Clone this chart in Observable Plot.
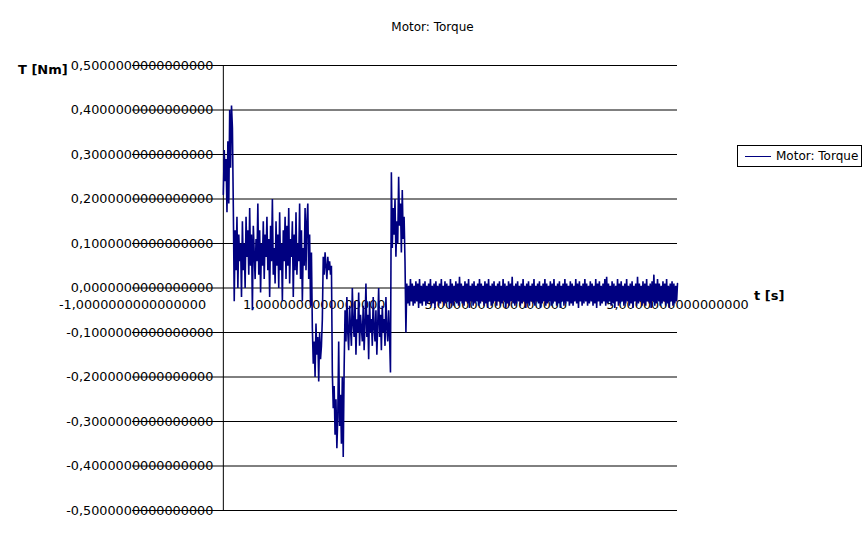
<!DOCTYPE html>
<html>
<head>
<meta charset="utf-8">
<script src="https://cdn.jsdelivr.net/npm/d3@7"></script>
<script src="https://cdn.jsdelivr.net/npm/@observablehq/plot@0.6"></script>
<style>
  html, body { margin: 0; padding: 0; background: #fff; }
  #root { position: relative; width: 867px; height: 548px; font-family: "DejaVu Sans", sans-serif; color: #000; }
  #root svg { position: absolute; left: 0; top: 0; }
  .lbl { position: absolute; white-space: nowrap; line-height: 16px; }
  #title { left: 0; width: 865px; text-align: center; top: 19px; font-size: 12px; }
  #ylab { left: 18px; top: 62px; font-size: 13px; font-weight: bold; }
  #xlab { left: 754px; top: 288px; font-size: 13px; font-weight: bold; }
  #legend { position: absolute; left: 737px; top: 145px; width: 125px; height: 22px; border: 1px solid #000; box-sizing: border-box; background: #fff; }
  #legend .sw { position: absolute; left: 7px; top: 10px; width: 26px; height: 1px; background: #000080; }
  #legend .tx { position: absolute; left: 38px; top: 3px; font-size: 12px; line-height: 14px; white-space: nowrap; }
</style>
</head>
<body>
<div id="root">
  <div class="lbl" id="title">Motor: Torque</div>
  <div class="lbl" id="ylab">T [Nm]</div>
  <div class="lbl" id="xlab">t [s]</div>
  <div id="legend"><div class="sw"></div><div class="tx">Motor: Torque</div></div>
</div>
<script>
// sampling interval of the torque series (s)
const dt = 0.01;
// Motor torque (Nm), sampled every dt from t = 0 s to t = 5 s
const torque = [
  .21,.31,.24,.29,.17,.33,.19,.40,.27,.41,
  .36,.18,-.03,.13,.04,.16,.00,.12,.06,.10,
  -.02,.15,.04,.10,.00,.16,.07,.13,.03,.18,
  .05,.12,-.05,.14,.08,.02,.11,.06,.19,.03,
  .13,-.01,.10,.05,.15,.02,.12,.07,.16,.04,
  .11,-.02,.14,.06,.20,.03,.09,.01,.15,.05,
  .12,.00,.17,.04,.10,-.03,.13,.06,.16,.02,
  .14,.05,.18,.01,.11,.07,.15,-.02,.12,.04,
  .17,.03,.10,.06,.19,.02,.13,-.03,.09,.05,
  .18,.04,.15,.19,.02,.12,-.04,.08,
  -.09,-.17,-.12,-.20,-.08,-.15,-.11,-.21,-.10,-.16,-.13,-.07,
  .07,.03,.08,.05,.02,.07,.04,.06,.03,.05,
  -.19,-.27,-.22,-.33,-.25,-.36,-.29,-.12,-.31,-.24,-.35,-.20,-.38,-.18,
  -.05,-.12,-.02,-.10,-.14,-.04,-.09,-.13,.00,-.08,
  -.11,-.03,-.15,-.07,-.10,-.01,-.13,-.06,-.09,-.12,
  -.04,-.14,-.08,.01,-.11,-.06,-.16,-.03,-.10,-.07,
  -.13,-.02,-.09,-.12,-.05,-.15,-.08,.00,-.11,-.06,
  -.14,-.04,-.10,-.07,-.13,-.02,-.09,-.12,-.05,-.11,
  -.19,
  .26,.09,.18,.12,.20,.07,.15,.10,.25,.14,.19,.08,.22,.11,.16,.06,
  -.10,
  .01,-.035,.005,-.04,.02,-.03,.01,-.04,.005,-.035,.015,-.03,.01,-.045,.02,-.035,.005,-.04,.01,-.03,
  .015,-.04,.005,-.035,.01,-.03,.02,-.04,.005,-.035,.01,-.045,.015,-.03,.005,-.04,.01,-.035,.02,-.03,
  .005,-.04,.015,-.035,.01,-.03,.005,-.045,.02,-.035,.01,-.04,.005,-.03,.015,-.035,.01,-.04,.025,-.03,
  .01,-.035,.005,-.04,.015,-.03,.01,-.035,.02,-.045,.005,-.03,.01,-.04,.015,-.035,.005,-.03,.01,-.04,
  .02,-.035,.01,-.03,.005,-.04,.015,-.035,.01,-.045,.02,-.03,.005,-.04,.01,-.035,.015,-.03,.005,-.04,
  .01,-.03,.015,-.04,.005,-.035,.02,-.03,.01,-.045,.005,-.035,.015,-.04,.01,-.03,.025,-.035,.005,-.04,
  .01,-.035,.015,-.03,.005,-.04,.01,-.035,.02,-.03,.005,-.045,.01,-.035,.015,-.04,.005,-.03,.01,-.035,
  .02,-.04,.005,-.03,.01,-.035,.015,-.045,.005,-.035,.01,-.03,.02,-.04,.01,-.035,.005,-.03,.015,-.04,
  .01,-.035,.02,-.03,.005,-.04,.01,-.035,.015,-.045,.005,-.03,.01,-.04,.02,-.035,.01,-.03,.005,-.04,
  .015,-.035,.01,-.04,.005,-.03,.02,-.035,.01,-.045,.015,-.03,.005,-.04,.01,-.035,.02,-.03,.01,-.04,
  .005,-.035,.015,-.03,.01,-.04,.005,-.035,.02,-.045,.01,-.03,.015,-.04,.005,-.035,.01,-.03,.02,-.04,
  .025,-.035,.01,-.03,.005,-.04,.015,-.035,.01,-.045,.005,-.03,.02,-.04,.01,-.035,.015,-.03,.005,-.04,
  .01,-.035,.02,-.03,.005,-.04,.01,-.035,.015,-.045,.005,-.03,.01,-.04,.025,-.035,.01,-.03,.005,-.04,
  .015,-.035,.01,-.04,.02,-.03,.005,-.035,.01,-.045,.015,-.03,.03,-.04,.01,-.035,.02,-.03,.01,-.04,
  .005,-.035,.015,-.03,.01,-.04,.02,-.035,.005,-.045,.01,-.03,.015,-.04,.01,-.035,.005,-.03,.01
];
// axis ticks
const yTicks = [-0.5, -0.4, -0.3, -0.2, -0.1, 0, 0.1, 0.2, 0.3, 0.4, 0.5];
const xTicks = [-1, 1, 3, 5];
const xDomain = [-1, 5];
const yDomain = [-0.5, 0.5];

const series = torque.map((v, i) => ({t: i * dt, v}));
const fmt = d => d.toFixed(16).replace(".", ",");

const chart = Plot.plot({
  width: 867,
  height: 548,
  marginLeft: 132,
  marginRight: 190,
  marginTop: 65,
  marginBottom: 38,
  x: {domain: xDomain, axis: null},
  y: {domain: yDomain, axis: null},
  style: {fontFamily: "DejaVu Sans", background: "transparent", color: "#000"},
  marks: [
    Plot.ruleY(yTicks, {stroke: "#000", strokeWidth: 1, strokeOpacity: 1}),
    Plot.ruleX([0], {stroke: "#000", strokeWidth: 1, strokeOpacity: 1}),
    Plot.text(yTicks, {x: 0, y: d => d, text: fmt, textAnchor: "end", dx: -10, fontSize: 12.8, fill: "#000"}),
    Plot.text(xTicks, {x: d => d, y: 0, text: fmt, dy: 17, fontSize: 12.8, fill: "#000"}),
    Plot.line(series, {x: "t", y: "v", stroke: "#000080", strokeWidth: 1.6, strokeLinejoin: "miter", strokeMiterlimit: 2})
  ]
});
document.getElementById("root").prepend(chart);
</script>
</body>
</html>
